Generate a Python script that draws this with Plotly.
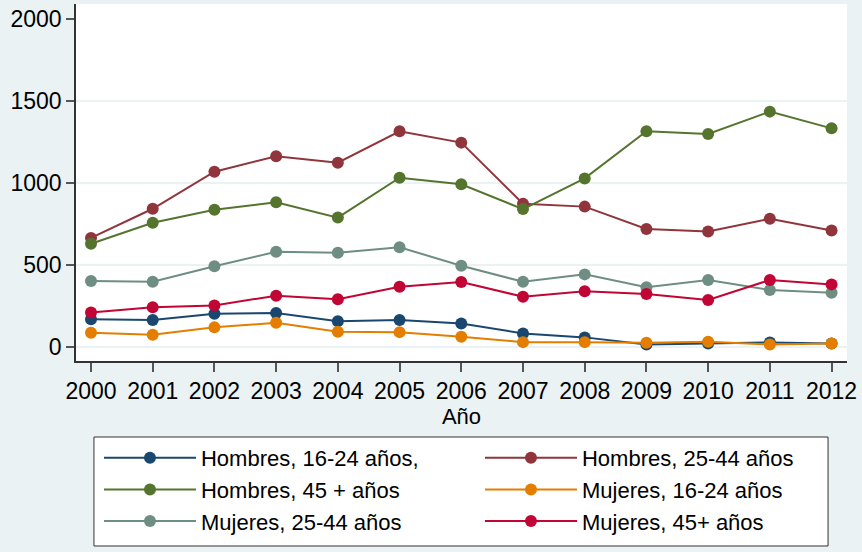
import plotly.graph_objects as go

years = list(range(2000, 2013))

hombres_16_24 = [169, 165, 203, 207, 157, 165, 144, 83, 59, 16, 22, 28, 22]
hombres_25_44 = [665, 843, 1069, 1163, 1124, 1315, 1246, 874, 856, 720, 705, 782, 711]
hombres_45 = [630, 758, 837, 882, 789, 1032, 992, 841, 1028, 1315, 1299, 1435, 1333]
mujeres_16_24 = [87, 75, 120, 148, 93, 91, 63, 30, 30, 26, 32, 16, 22]
mujeres_25_44 = [402, 398, 492, 581, 575, 608, 496, 398, 443, 364, 409, 348, 331]
mujeres_45 = [211, 242, 254, 313, 291, 368, 396, 307, 340, 323, 287, 409, 382]

series = [
    ("Hombres, 16-24 años,", hombres_16_24, "#1A476F"),
    ("Hombres, 25-44 años", hombres_25_44, "#90353B"),
    ("Hombres, 45 + años", hombres_45, "#55752F"),
    ("Mujeres, 16-24 años", mujeres_16_24, "#E37E00"),
    ("Mujeres, 25-44 años", mujeres_25_44, "#6E8E84"),
    ("Mujeres, 45+ años", mujeres_45, "#C10534"),
]

y_ticks = [0, 500, 1000, 1500, 2000]
grid_vals = [0, 500, 1000, 1500]

BG = "#EAF2F3"
FONT = "Liberation Sans, Arial, sans-serif"

fig = go.Figure()
for name, vals, color in series:
    fig.add_trace(go.Scatter(
        x=years, y=vals, name=name, mode="lines+markers",
        line=dict(color=color, width=2),
        marker=dict(color=color, size=12),
    ))

# light grid lines (Stata style, none at the top tick)
for g in grid_vals:
    fig.add_shape(type="line", xref="paper", x0=0, x1=1, yref="y", y0=g, y1=g,
                  line=dict(color=BG, width=2), layer="below")

# legend box drawn separately so its size matches
fig.add_shape(type="rect", xref="paper", yref="paper",
              x0=0.0233, x1=0.9754, y0=-0.2129, y1=-0.5182,
              line=dict(color="#333333", width=1), fillcolor="white", layer="above")

fig.update_layout(
    width=862, height=552,
    margin=dict(l=76, r=15, t=4, b=191, autoexpand=False),
    paper_bgcolor=BG, plot_bgcolor="white",
    font=dict(family=FONT, size=23, color="black"),
    showlegend=True,
    legend=dict(
        orientation="h", x=0.0298, y=-0.213, xanchor="left", yanchor="top",
        bgcolor="rgba(0,0,0,0)", borderwidth=0,
        entrywidth=274, itemwidth=92,
        font=dict(family=FONT, size=22, color="black"),
    ),
)

fig.update_xaxes(
    range=[1999.757, 2012.25], tickvals=years, ticktext=[str(y) for y in years],
    showgrid=False, zeroline=False,
    showline=True, linecolor="#333333", linewidth=1.5,
    ticks="outside", ticklen=9, tickcolor="#555555", tickwidth=1.5,
    title=dict(text="Año", standoff=0, font=dict(size=22)),
)
fig.update_yaxes(
    range=[-85, 2091], tickvals=y_ticks,
    showgrid=False, zeroline=False,
    showline=True, linecolor="#333333", linewidth=1.5,
    ticks="outside", ticklen=8, tickcolor="#555555", tickwidth=1.5,
)

fig.write_html(
    "out.html",
    config={"displayModeBar": False},
    post_script="document.body.style.margin='0';document.body.style.overflow='hidden';",
)
